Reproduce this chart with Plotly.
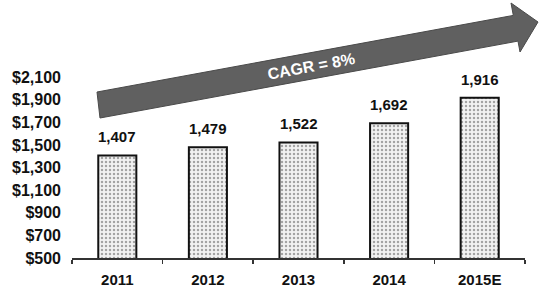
import plotly.graph_objects as go

# ---- data ----
years = ["2011", "2012", "2013", "2014", "2015E"]
revenue = [1407, 1479, 1522, 1692, 1916]
y_ticks = [500, 700, 900, 1100, 1300, 1500, 1700, 1900, 2100]
cagr_label = "CAGR = 8%"

W, H = 547, 291
ML, MR, MT, MB = 72, 22, 0, 33
PW, PH = W - ML - MR, H - MT - MB

def px(x, y):
    return (x - ML) / PW, (H - MB - y) / PH

FONT = "Liberation Sans, Arial, sans-serif"

fig = go.Figure()
fig.add_trace(go.Bar(
    x=years, y=revenue, base=0, width=0.42,
    marker=dict(
        color="#f2f2f2",
        line=dict(color="#111111", width=2),
        pattern=dict(shape=".", fgcolor="#555555", bgcolor="#f2f2f2", size=4, solidity=0.3),
    ),
    hoverinfo="skip",
))

# value labels
for i, v in enumerate(revenue):
    fig.add_annotation(x=i, y=v, text=f"{v:,}", showarrow=False, yanchor="bottom",
                       yshift=8, font=dict(family=FONT, size=15, color="#111111", weight=700))

# arrow shape (pixel-defined decoration)
pts = [(97, 92), (513.3, 15.4), (511, 3), (538, 22), (520, 52), (518, 41.1), (100, 118)]
path = "M " + " L ".join(f"{px(a,b)[0]:.4f},{px(a,b)[1]:.4f}" for a, b in pts) + " Z"
fig.add_shape(type="path", path=path, xref="paper", yref="paper",
              fillcolor="#606060", line=dict(color="#4a4a4a", width=1), layer="above")
cx, cy = px(310.5, 66.5)
fig.add_annotation(x=cx, y=cy, xref="paper", yref="paper", text=cagr_label, showarrow=False,
                   textangle=-10.5, xanchor="center", yanchor="middle",
                   font=dict(family=FONT, size=16, color="white", weight=700))

fig.update_layout(
    width=W, height=H,
    margin=dict(l=ML, r=MR, t=MT, b=MB),
    paper_bgcolor="white", plot_bgcolor="white",
    showlegend=False,
    font=dict(family=FONT, size=15, color="#111111", weight=700),
)
fig.update_xaxes(
    type="category", range=[-0.5, 4.5],
    showline=True, linecolor="#333333", linewidth=1.5,
    ticks="outside", tickson="boundaries", ticklen=4, tickcolor="#333333", tickwidth=1.5,
    showgrid=False, zeroline=False, ticklabelstandoff=7,
    tickfont=dict(family=FONT, size=15, color="#111111", weight=700),
)
fig.update_yaxes(
    range=[500, 500 + PH / 0.1131],
    tickvals=y_ticks, ticktext=[f"${v:,}" for v in y_ticks],
    showline=False, showgrid=False, zeroline=False, ticks="",
    ticklabelstandoff=10,
    tickfont=dict(family=FONT, size=16, color="#111111", weight=700),
)

fig.write_html("out.html", config={"displayModeBar": False, "staticPlot": True},
               post_script="document.body.style.margin='0';document.body.style.overflow='hidden';")
